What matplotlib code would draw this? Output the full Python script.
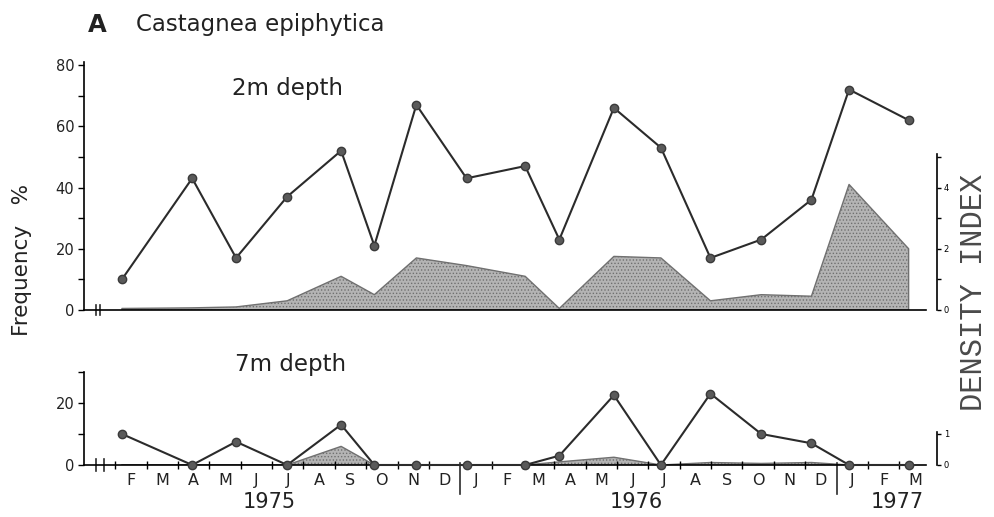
import matplotlib
matplotlib.use('Agg')
import matplotlib.pyplot as plt
import numpy as np

# data: sampling times in months since 1 Jan 1975
samp_t = [1.21, 3.45, 4.85, 6.48, 8.2, 9.26, 10.6, 12.2, 14.07, 15.16,
          16.9, 18.4, 19.98, 21.6, 23.2, 24.4, 26.3]

# 2m depth
freq_2m = [10, 43, 17, 37, 52, 21, 67, 43, 47, 23, 66, 53, 17, 23, 36, 72, 62]
dens_2m = [0.05, 0.07, 0.1, 0.3, 1.1, 0.5, 1.7, 1.45, 1.1, 0.05, 1.75, 1.7,
           0.3, 0.5, 0.45, 4.1, 2.0]

# 7m depth
freq_7m = [10, 0, 7.5, 0, 13, 0, 0, 0, 0, 3, 22.5, 0, 23, 10, 7, 0, 0]
dens_7m = [0, 0, 0, 0, 0.6, 0, 0, 0, 0, 0.1, 0.25, 0, 0.08, 0.05, 0.08, 0, 0]

month_lbls = ['F', 'M', 'A', 'M', 'J', 'J', 'A', 'S', 'O', 'N', 'D',
              'J', 'F', 'M', 'A', 'M', 'J', 'J', 'A', 'S', 'O', 'N', 'D',
              'J', 'F', 'M']
year_lbls = ['1975', '1976', '1977']
year_pos = [5.9, 17.6, 25.95]
year_breaks = [12, 24]

# params
_xmax = 27.2
_axend = 26.85
_linec = '#2b2b2b'
_textc = '#222222'
_fillc = '#b4b4b4'
_edgec = '#707070'

plt.rcParams['hatch.linewidth'] = 0.6
plt.rcParams['hatch.color'] = '#8c8c8c'

fig = plt.figure(figsize=(9.94, 5.17), dpi=100)
ax1 = fig.add_axes([0.0845, 0.4004, 0.858, 0.4857])
ax2 = fig.add_axes([0.0845, 0.1006, 0.858, 0.192])


def _panel(ax, freq, dens, ytop, ybound, yticks, ylbls, dbound, dticks, dlbls):
    axr = ax.twinx()
    axr.fill_between(samp_t, 0, dens, facecolor=_fillc, edgecolor=_edgec,
                     hatch='.....', linewidth=1.0, zorder=1)
    axr.set_ylim(0, ytop / 10)
    axr.set_xlim(0, _xmax)
    for s in ['top', 'left', 'bottom']:
        axr.spines[s].set_visible(False)
    axr.spines['right'].set_bounds(0, dbound)
    axr.spines['right'].set_linewidth(1.2)
    axr.set_yticks(dticks)
    axr.set_yticklabels(dlbls, fontsize=6)
    axr.tick_params(axis='y', length=3, width=1, pad=2)

    ax.set_zorder(axr.get_zorder() + 1)
    ax.patch.set_visible(False)
    ax.plot(samp_t, freq, '-o', color=_linec, lw=1.5, ms=6,
            mfc='#5a5a5a', mec='#3a3a3a', clip_on=False, zorder=3)
    ax.set_xlim(0, _xmax)
    ax.set_ylim(0, ytop)
    for s in ['top', 'right']:
        ax.spines[s].set_visible(False)
    ax.spines['left'].set_bounds(0, ybound)
    ax.spines['bottom'].set_bounds(0, _axend)
    ax.spines['left'].set_linewidth(1.2)
    ax.spines['bottom'].set_linewidth(1.2)
    ax.set_yticks(yticks)
    ax.set_yticklabels(ylbls, fontsize=10.5, color=_textc)
    ax.tick_params(axis='y', length=4, width=1, pad=3)
    return axr


ax1r = _panel(ax1, freq_2m, dens_2m, 82, 81,
              np.arange(0, 81, 10), ['0', '', '20', '', '40', '', '60', '', '80'],
              5.1, np.arange(0, 6), ['0', '', '2', '', '4', ''])
ax2r = _panel(ax2, freq_7m, dens_7m, 32, 30,
              [0, 10, 20, 30], ['0', '', '20', ''],
              1.05, [0, 1], ['0', '1'])

# top panel x axis: no ticks
ax1.set_xticks([])

# bottom panel month axis
mticks = [m for m in range(1, 27) if m not in year_breaks]
ax2.set_xticks(mticks)
ax2.set_xticklabels([''] * len(mticks))
ax2.tick_params(axis='x', which='major', direction='inout', length=6, width=1)
ax2.set_xticks(np.arange(1, 27) + 0.5, minor=True)
ax2.set_xticklabels(month_lbls, minor=True, fontsize=11.5, color=_textc)
ax2.tick_params(axis='x', which='minor', length=0, pad=6)

# year separators and labels
for xb in year_breaks:
    ax2.plot([xb, xb], [0.02, -0.29], color=_linec, lw=1.2,
             transform=ax2.get_xaxis_transform(), clip_on=False)
for yl, yp in zip(year_lbls, year_pos):
    ax2.text(yp, -0.37, yl, transform=ax2.get_xaxis_transform(),
             ha='center', va='center', fontsize=15, color=_textc)

# axis break marks
for ax, xs, h in [(ax1, [0.38, 0.5], 0.02), (ax2, [0.38, 0.64], 0.06)]:
    for xb in xs:
        ax.plot([xb, xb], [-h, h], color=_linec, lw=1.2,
                transform=ax.get_xaxis_transform(), clip_on=False)

# panel titles
fig.text(88 / 994, 1 - 25 / 517, 'A', fontsize=17.5, fontweight='bold',
         va='center', ha='left', color=_textc)
fig.text(136 / 994, 1 - 25 / 517, 'Castagnea epiphytica', fontsize=16.5,
         va='center', ha='left', color=_textc)
fig.text(288 / 994, 1 - 88 / 517, '2m depth', fontsize=16.5,
         va='center', ha='center', color=_textc)
fig.text(291 / 994, 1 - 364 / 517, '7m depth', fontsize=16.5,
         va='center', ha='center', color=_textc)

# axis labels
fig.text(22 / 994, 1 - 260 / 517, 'Frequency   %', fontsize=15.5, rotation=90,
         va='center', ha='center', color=_textc)
fig.text(974 / 994, 1 - 292 / 517, 'DENSITY INDEX', fontsize=22,
         family='Liberation Mono', rotation=90,
         va='center', ha='center', color='#4a4a4a')

fig.savefig('out.png', dpi=100)
